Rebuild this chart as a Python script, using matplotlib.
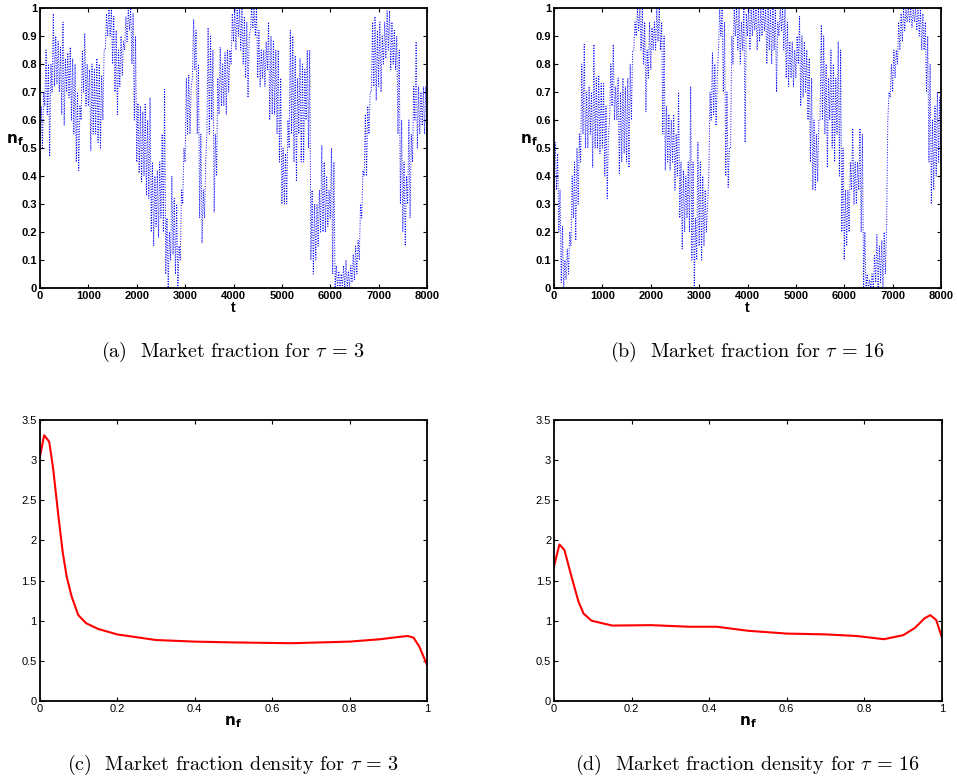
import numpy as np
import matplotlib
matplotlib.use("Agg")
import matplotlib.pyplot as plt
from matplotlib.ticker import FormatStrFormatter

plt.rcParams['font.family'] = ['Liberation Sans', 'DejaVu Sans']
plt.rcParams['mathtext.fontset'] = 'cm'

# time axis of the market fraction series (band read every 50 steps)
t_step = 50
t_max = 8000

# market fraction n_f, tau = 3: lower and upper edge of the band
nf_tau3_lo = [
    0.55, 0.50, 0.65, 0.62, 0.47, 0.70, 0.72, 0.73, 0.70, 0.62,
    0.58, 0.70, 0.68, 0.60, 0.55, 0.45, 0.42, 0.60, 0.70, 0.65,
    0.65, 0.49, 0.55, 0.55, 0.52, 0.50, 0.60, 0.85, 0.90, 0.90,
    0.80, 0.70, 0.62, 0.72, 0.76, 0.85, 0.88, 0.92, 0.80, 0.60,
    0.45, 0.41, 0.38, 0.40, 0.33, 0.32, 0.20, 0.15, 0.22, 0.18,
    0.25, 0.20, 0.05, 0.00, 0.10, 0.12, 0.05, 0.00, 0.10, 0.30,
    0.45, 0.55, 0.55, 0.75, 0.78, 0.55, 0.25, 0.16, 0.25, 0.55,
    0.55, 0.60, 0.27, 0.40, 0.62, 0.65, 0.65, 0.62, 0.70, 0.80,
    0.88, 0.85, 0.90, 0.85, 0.80, 0.75, 0.68, 0.92, 0.93, 0.90,
    0.75, 0.72, 0.75, 0.72, 0.78, 0.60, 0.62, 0.62, 0.55, 0.45,
    0.30, 0.30, 0.30, 0.50, 0.55, 0.45, 0.38, 0.55, 0.45, 0.45,
    0.60, 0.50, 0.10, 0.05, 0.10, 0.15, 0.20, 0.20, 0.20, 0.22,
    0.25, 0.05, 0.00, 0.00, 0.00, 0.00, 0.00, 0.00, 0.00, 0.02,
    0.03, 0.05, 0.10, 0.25, 0.40, 0.40, 0.55, 0.70, 0.72, 0.67,
    0.72, 0.70, 0.80, 0.82, 0.85, 0.78, 0.80, 0.78, 0.55, 0.30,
    0.20, 0.15, 0.30, 0.25, 0.45, 0.60, 0.50, 0.55, 0.58, 0.55,
    0.55,
]
nf_tau3_hi = [
    0.65, 0.70, 0.85, 0.80, 0.80, 0.98, 0.90, 0.88, 0.86, 0.95,
    0.82, 0.84, 0.86, 0.82, 0.80, 0.70, 0.65, 0.85, 0.91, 0.80,
    0.78, 0.80, 0.78, 0.82, 0.80, 0.76, 0.85, 0.98, 1.00, 1.00,
    0.97, 0.92, 0.85, 0.90, 0.88, 0.97, 1.00, 1.00, 0.98, 0.90,
    0.66, 0.65, 0.63, 0.66, 0.60, 0.68, 0.45, 0.40, 0.42, 0.45,
    0.55, 0.71, 0.25, 0.20, 0.40, 0.32, 0.30, 0.15, 0.35, 0.50,
    0.75, 0.76, 0.72, 0.96, 0.92, 0.80, 0.55, 0.35, 0.45, 0.93,
    0.90, 0.85, 0.55, 0.75, 0.86, 0.80, 0.84, 0.85, 0.85, 0.98,
    1.00, 1.00, 1.00, 1.00, 0.97, 0.95, 0.90, 1.00, 1.00, 1.00,
    0.92, 0.85, 0.85, 0.88, 0.95, 0.90, 0.88, 0.85, 0.85, 0.75,
    0.50, 0.48, 0.60, 0.92, 0.90, 0.83, 0.75, 0.82, 0.80, 0.78,
    0.85, 0.85, 0.35, 0.30, 0.30, 0.35, 0.51, 0.45, 0.40, 0.35,
    0.50, 0.45, 0.08, 0.06, 0.05, 0.08, 0.10, 0.06, 0.08, 0.12,
    0.15, 0.17, 0.30, 0.42, 0.62, 0.65, 0.70, 0.95, 0.97, 0.92,
    0.95, 0.90, 0.95, 0.99, 0.99, 0.95, 0.92, 0.90, 0.85, 0.60,
    0.45, 0.40, 0.60, 0.55, 0.72, 0.88, 0.72, 0.70, 0.72, 0.72,
    0.65,
]

# market fraction n_f, tau = 16: lower and upper edge of the band
nf_tau16_lo = [
    0.40, 0.35, 0.20, 0.02, 0.00, 0.03, 0.05, 0.15, 0.25, 0.17,
    0.30, 0.45, 0.55, 0.50, 0.50, 0.55, 0.43, 0.50, 0.50, 0.48,
    0.50, 0.40, 0.32, 0.60, 0.65, 0.60, 0.60, 0.41, 0.45, 0.48,
    0.45, 0.43, 0.60, 0.85, 0.90, 0.92, 0.85, 0.80, 0.63, 0.75,
    0.78, 0.85, 0.85, 0.88, 0.85, 0.55, 0.42, 0.45, 0.42, 0.45,
    0.35, 0.40, 0.25, 0.14, 0.20, 0.25, 0.20, 0.10, 0.00, 0.10,
    0.15, 0.10, 0.15, 0.20, 0.40, 0.60, 0.62, 0.58, 0.85, 0.90,
    0.70, 0.40, 0.36, 0.50, 0.80, 0.90, 0.85, 0.80, 0.85, 0.52,
    0.90, 0.85, 0.90, 0.92, 0.85, 0.88, 0.90, 0.92, 0.80, 0.85,
    0.80, 0.85, 0.70, 0.90, 0.92, 0.85, 0.75, 0.72, 0.75, 0.72,
    0.75, 0.80, 0.65, 0.68, 0.70, 0.60, 0.45, 0.35, 0.35, 0.38,
    0.60, 0.60, 0.55, 0.43, 0.60, 0.50, 0.45, 0.55, 0.40, 0.20,
    0.10, 0.15, 0.20, 0.35, 0.30, 0.30, 0.35, 0.20, 0.00, 0.00,
    0.00, 0.00, 0.00, 0.02, 0.00, 0.02, 0.00, 0.05, 0.60, 0.68,
    0.70, 0.75, 0.80, 0.85, 0.88, 0.92, 0.95, 0.95, 0.93, 0.95,
    0.92, 0.90, 0.85, 0.85, 0.70, 0.45, 0.30, 0.35, 0.40, 0.45,
    0.50,
]
nf_tau16_hi = [
    0.52, 0.48, 0.35, 0.22, 0.10, 0.14, 0.20, 0.40, 0.45, 0.50,
    0.55, 0.80, 0.87, 0.70, 0.72, 0.70, 0.87, 0.75, 0.76, 0.73,
    0.73, 0.65, 0.55, 0.80, 0.87, 0.72, 0.75, 0.70, 0.75, 0.72,
    0.75, 0.80, 0.85, 0.95, 1.00, 1.00, 1.00, 0.95, 0.85, 0.95,
    0.93, 0.95, 1.00, 1.00, 0.95, 0.90, 0.65, 0.62, 0.60, 0.62,
    0.55, 0.70, 0.45, 0.42, 0.40, 0.45, 0.72, 0.45, 0.25, 0.52,
    0.45, 0.40, 0.35, 0.30, 0.70, 0.84, 0.80, 0.75, 1.00, 1.00,
    0.95, 0.70, 0.50, 0.90, 1.00, 1.00, 1.00, 0.95, 1.00, 0.98,
    1.00, 1.00, 1.00, 1.00, 1.00, 1.00, 1.00, 1.00, 1.00, 1.00,
    1.00, 1.00, 0.95, 1.00, 1.00, 1.00, 0.95, 0.88, 0.88, 0.85,
    0.90, 0.97, 0.90, 0.88, 0.85, 0.82, 0.75, 0.60, 0.55, 0.60,
    0.94, 0.90, 0.80, 0.75, 0.85, 0.80, 0.75, 0.88, 0.85, 0.50,
    0.35, 0.35, 0.45, 0.57, 0.45, 0.45, 0.57, 0.55, 0.20, 0.05,
    0.03, 0.05, 0.12, 0.19, 0.15, 0.17, 0.20, 0.22, 0.70, 0.80,
    0.85, 0.85, 0.95, 0.98, 1.00, 1.00, 1.00, 1.00, 1.00, 1.00,
    1.00, 1.00, 0.98, 0.95, 0.90, 0.80, 0.60, 0.65, 0.70, 0.68,
    0.60,
]

# estimated density of n_f
dens_x_tau3 = [0.0, 0.012, 0.025, 0.035, 0.05, 0.06, 0.07, 0.083, 0.1, 0.12,
               0.15, 0.2, 0.3, 0.4, 0.5, 0.65, 0.8, 0.88, 0.93, 0.95,
               0.965, 0.98, 1.0]
dens_y_tau3 = [3.02, 3.31, 3.23, 2.9, 2.25, 1.85, 1.55, 1.3, 1.07, 0.97,
               0.9, 0.83, 0.76, 0.74, 0.73, 0.72, 0.74, 0.77, 0.80, 0.81,
               0.79, 0.68, 0.45]

dens_x_tau16 = [0.0, 0.014, 0.027, 0.045, 0.063, 0.076, 0.097, 0.15, 0.25, 0.35,
                0.42, 0.5, 0.6, 0.7, 0.78, 0.85, 0.9, 0.93, 0.955, 0.97,
                0.985, 1.0]
dens_y_tau16 = [1.68, 1.95, 1.88, 1.55, 1.24, 1.09, 1.0, 0.94, 0.945, 0.925,
                0.925, 0.875, 0.84, 0.83, 0.81, 0.77, 0.82, 0.91, 1.03, 1.07,
                1.01, 0.79]

captions = [
    r'(a)  Market fraction for $\tau\, =\, 3$',
    r'(b)  Market fraction for $\tau\, =\, 16$',
    r'(c)  Market fraction density for $\tau\, =\, 3$',
    r'(d)  Market fraction density for $\tau\, =\, 16$',
]


def style_box(ax, bold):
    weight = 'bold' if bold else 'normal'
    ax.tick_params(direction='in', top=True, right=True, length=3,
                   width=0.8, labelsize=8, pad=2)
    for lab in ax.get_xticklabels() + ax.get_yticklabels():
        lab.set_fontweight(weight)
    for sp in ax.spines.values():
        sp.set_linewidth(1.3)


def nf_label():
    return r'$\mathbf{n_f}$'


fig = plt.figure(figsize=(9.57, 7.81), dpi=100)

t = np.arange(0, t_max + 1, t_step)
# the trace swings from the lower edge to the upper edge of the band
t_trace = np.column_stack([t, t + t_step / 2]).ravel()

top_axes = [fig.add_axes([0.0418, 0.6312, 0.4044, 0.3585]),
            fig.add_axes([0.5789, 0.6312, 0.4044, 0.3585])]
for ax, lo, hi in zip(top_axes, [nf_tau3_lo, nf_tau16_lo],
                      [nf_tau3_hi, nf_tau16_hi]):
    trace = np.column_stack([lo, hi]).ravel()
    ax.plot(t_trace, trace, color='b', linestyle=':', linewidth=0.7)
    ax.set_xlim(0, t_max)
    ax.set_ylim(0, 1)
    ax.set_xticks(np.arange(0, 8001, 1000))
    ax.set_yticks(np.arange(0, 1.01, 0.1))
    ax.yaxis.set_major_formatter(FormatStrFormatter('%g'))
    style_box(ax, True)
    ax.set_xlabel('t', fontsize=10, fontweight='bold', labelpad=0)
    ax.set_ylabel(nf_label(), fontsize=11, rotation=0,
                  math_fontfamily='dejavusans')
    ax.yaxis.set_label_coords(-0.065, 0.5)

bot_axes = [fig.add_axes([0.0413, 0.1024, 0.4049, 0.3598]),
            fig.add_axes([0.5789, 0.1024, 0.4054, 0.3598])]
for ax, xs, ys in zip(bot_axes, [dens_x_tau3, dens_x_tau16],
                      [dens_y_tau3, dens_y_tau16]):
    ax.plot(xs, ys, color='red', linewidth=1.5)
    ax.set_xlim(0, 1)
    ax.set_ylim(0, 3.5)
    ax.set_xticks(np.arange(0, 1.01, 0.2))
    ax.set_yticks(np.arange(0, 3.51, 0.5))
    ax.xaxis.set_major_formatter(FormatStrFormatter('%g'))
    ax.yaxis.set_major_formatter(FormatStrFormatter('%g'))
    style_box(ax, False)
    ax.set_xlabel(nf_label(), fontsize=11, labelpad=0,
                  math_fontfamily='dejavusans')

cap_pos = [(0.2435, 0.549), (0.7806, 0.549), (0.2435, 0.0205), (0.7806, 0.0205)]
for (cx, cy), txt in zip(cap_pos, captions):
    fig.text(cx, cy, txt, ha='center', va='center', fontsize=14.5,
             family=['cmr10', 'DejaVu Serif'])

fig.savefig('out.png', dpi=100)
